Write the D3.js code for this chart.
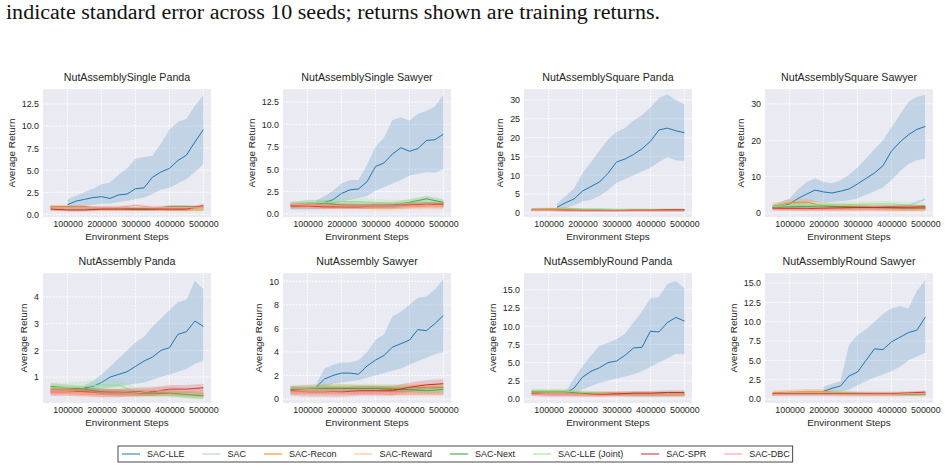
<!DOCTYPE html>
<html>
<head>
<meta charset="utf-8">
<script src="https://cdn.jsdelivr.net/npm/d3@7"></script>
<style>
  body { margin: 0; background: #fff; }
  svg { display: block; }
</style>
</head>
<body>
<div id="chart"></div>
<script>
// training steps for the SAC-LLE curves and for the baseline curves
var steps = [50000, 75000, 100000, 125000, 150000, 175000, 200000, 225000, 250000, 275000,
             300000, 325000, 350000, 375000, 400000, 425000, 450000, 475000, 500000];
var evalSteps = [50000, 100000, 150000, 200000, 250000, 300000, 350000, 400000, 450000, 500000];

var methods = ["SAC-LLE", "SAC", "SAC-Recon", "SAC-Reward", "SAC-Next", "SAC-LLE (Joint)", "SAC-SPR", "SAC-DBC"];
var colors = ["#1f77b4", "#aec7e8", "#ff7f0e", "#ffbb78", "#2ca02c", "#98df8a", "#d62728", "#ff9896"];

var titles = ["NutAssemblySingle Panda", "NutAssemblySingle Sawyer", "NutAssemblySquare Panda", "NutAssemblySquare Sawyer",
              "NutAssembly Panda", "NutAssembly Sawyer", "NutAssemblyRound Panda", "NutAssemblyRound Sawyer"];

var yTicks = [
  [0, 2.5, 5, 7.5, 10, 12.5],
  [0, 2.5, 5, 7.5, 10, 12.5],
  [0, 5, 10, 15, 20, 25, 30],
  [0, 10, 20, 30],
  [1, 2, 3, 4],
  [0, 2, 4, 6, 8, 10],
  [0, 2.5, 5, 7.5, 10, 12.5, 15],
  [0, 2.5, 5, 7.5, 10, 12.5, 15]
];
var yFormats = [".1f", ".1f", "d", "d", "d", "d", ".1f", ".1f"];
var yDomains = [[-0.3, 14.2], [-0.33, 13.95], [-1.1, 32.9], [-1.1, 34.1],
                [0.03, 4.9], [-0.34, 10.7], [-0.55, 17.3], [-0.5, 16.3]];
var xTicks = [100000, 200000, 300000, 400000, 500000];

// SAC-LLE mean and standard-error band, one row per panel (null = not yet plotted)
var lleMean = [
  [null, null, 1.1, 1.5, 1.7, 1.9, 2.0, 1.8, 2.2, 2.3, 2.9, 3.0, 4.2, 4.8, 5.2, 6.1, 6.7, 8.2, 9.6],
  [null, null, null, 1.0, 1.3, 1.6, 2.3, 2.7, 2.8, 3.6, 5.3, 5.7, 6.7, 7.4, 7.0, 7.3, 8.2, 8.3, 8.9],
  [null, null, null, 1.5, 2.7, 3.7, 5.8, 7.0, 8.2, 10.5, 13.5, 14.3, 15.5, 17.0, 19.0, 22.0, 22.5, 21.8, 21.3],
  [1.5, 1.8, 2.5, 4.0, 5.2, 6.3, 5.8, 5.5, 6.0, 6.6, 8.0, 9.5, 11.0, 13.0, 17.0, 19.5, 21.5, 23.0, 23.8],
  [null, null, null, null, 0.6, 0.65, 0.8, 1.0, 1.1, 1.2, 1.4, 1.6, 1.75, 2.0, 2.1, 2.6, 2.7, 3.1, 2.9],
  [null, null, null, 1.0, 1.7, 2.0, 2.2, 2.2, 2.1, 2.8, 3.3, 3.7, 4.4, 4.7, 5.0, 5.9, 5.8, 6.4, 7.1],
  [null, null, null, null, 0.8, 1.5, 3.0, 3.8, 4.3, 5.0, 5.2, 6.0, 7.0, 7.1, 9.3, 9.2, 10.5, 11.2, 10.7],
  [null, null, null, null, null, null, 1.0, 1.4, 1.7, 3.0, 3.5, 5.0, 6.5, 6.4, 7.4, 8.0, 8.6, 8.9, 10.6]
];
var lleHi = [
  [null, null, 1.7, 2.1, 2.5, 2.9, 3.4, 3.6, 4.5, 5.2, 6.3, 6.5, 6.6, 8.0, 9.6, 10.5, 10.8, 12.3, 13.5],
  [null, null, null, 1.5, 2.0, 2.6, 3.4, 3.8, 3.8, 5.5, 7.5, 8.5, 10.5, 10.8, 10.4, 11.2, 11.5, 12.0, 13.3],
  [null, null, null, 2.5, 4.5, 6.5, 10.5, 13.5, 16.5, 19.5, 21.5, 22.5, 24.5, 26.0, 28.0, 30.5, 31.5, 30.0, 28.8],
  [2.2, 3.0, 4.0, 6.5, 8.5, 9.5, 8.5, 8.2, 9.0, 10.5, 12.5, 15.0, 17.5, 20.0, 23.5, 27.0, 30.5, 32.0, 32.5],
  [null, null, null, null, 0.7, 0.85, 1.1, 1.4, 1.7, 2.0, 2.3, 2.5, 2.9, 3.2, 3.5, 3.8, 3.9, 4.6, 4.3],
  [null, null, null, 1.2, 2.6, 2.9, 3.1, 3.1, 3.3, 4.0, 5.0, 5.5, 7.0, 7.4, 8.0, 8.6, 8.7, 9.3, 10.2],
  [null, null, null, null, 1.0, 2.8, 4.5, 6.0, 7.3, 7.7, 8.2, 9.0, 10.5, 12.0, 13.8, 14.0, 15.8, 16.2, 15.2],
  [null, null, null, null, null, null, 1.6, 2.0, 2.3, 7.0, 8.3, 9.0, 10.0, 11.0, 11.7, 12.0, 11.7, 14.0, 15.4]
];
var lleLo = [
  [null, null, 0.7, 0.9, 1.0, 1.1, 1.2, 1.2, 1.4, 1.5, 1.7, 1.9, 2.3, 2.8, 3.0, 3.5, 4.0, 4.8, 5.7],
  [null, null, null, 0.8, 0.9, 1.1, 1.4, 1.6, 1.8, 2.0, 2.6, 3.0, 3.4, 3.8, 4.3, 4.5, 4.7, 4.6, 5.0],
  [null, null, null, 0.7, 1.2, 2.0, 3.0, 3.5, 4.5, 6.0, 8.0, 9.0, 10.0, 11.0, 12.0, 13.5, 14.8, 14.0, 13.8],
  [1.0, 1.0, 1.5, 2.0, 2.5, 3.0, 2.8, 3.0, 3.2, 3.5, 4.0, 5.0, 6.0, 7.0, 9.0, 11.5, 13.5, 14.5, 15.0],
  [null, null, null, null, 0.45, 0.5, 0.55, 0.6, 0.65, 0.7, 0.75, 0.8, 0.9, 1.0, 1.1, 1.2, 1.3, 1.5, 1.6],
  [null, null, null, 0.8, 1.0, 1.3, 1.4, 1.5, 1.6, 1.8, 2.0, 2.2, 2.4, 2.6, 2.9, 3.2, 3.5, 3.8, 4.0],
  [null, null, null, null, 0.6, 0.9, 1.3, 1.8, 2.2, 2.5, 2.8, 3.1, 3.4, 3.8, 4.4, 5.0, 5.6, 6.2, 6.1],
  [null, null, null, null, null, null, 0.6, 0.8, 1.0, 1.2, 1.8, 2.3, 2.8, 3.2, 3.6, 4.2, 5.0, 5.5, 6.0]
];

// baselines (SAC, Recon, Reward, Next, LLE Joint, SPR, DBC) at evalSteps, one block per panel
var baseMean = [
  [[0.8,0.8,0.7,0.7,0.7,0.6,0.6,0.6,0.6,0.6], [0.9,0.9,0.9,0.6,0.6,0.6,0.6,0.5,0.5,0.5],
   [0.5,0.5,0.5,0.5,0.5,0.5,0.5,0.5,0.5,0.5], [0.8,0.8,0.8,0.7,0.7,0.6,0.6,0.9,0.9,0.8],
   [0.7,0.7,0.7,0.7,0.7,0.7,0.7,0.7,0.7,0.7], [0.6,0.5,0.5,0.6,0.6,0.6,0.6,0.6,0.6,1.0],
   [0.8,0.8,0.8,0.8,0.8,1.0,0.8,0.8,0.8,0.8]],
  [[0.6,0.6,0.7,0.8,0.8,0.8,0.8,0.8,0.9,0.9], [1.0,1.1,1.1,1.0,0.9,0.9,1.0,1.1,1.0,1.0],
   [0.8,0.8,0.7,0.7,0.7,0.6,0.6,0.7,0.7,0.7], [1.0,1.2,1.2,1.0,1.0,1.0,1.0,1.3,1.7,1.3],
   [1.0,1.2,1.3,1.4,1.4,1.3,1.2,1.2,1.3,1.2], [0.9,0.9,0.8,0.8,0.8,0.9,0.9,1.0,1.1,1.1],
   [1.1,1.0,1.0,0.9,0.9,0.9,0.9,0.9,1.0,0.9]],
  [[0.8,0.8,0.8,0.7,0.7,0.7,0.7,0.7,0.7,0.7], [1.0,1.1,1.2,0.9,0.8,0.8,0.8,0.8,0.8,0.8],
   [0.9,0.9,1.0,0.8,0.6,0.6,0.6,0.6,0.6,0.6], [0.8,0.8,0.8,0.8,0.8,0.8,0.7,0.7,0.7,0.7],
   [0.9,0.9,1.0,1.0,1.0,0.9,0.9,0.9,0.9,0.9], [0.7,0.7,0.7,0.6,0.6,0.6,0.7,0.7,0.8,0.8],
   [0.6,0.6,0.5,0.5,0.5,0.5,0.5,0.5,0.5,0.5]],
  [[1.5,1.5,1.6,1.6,1.6,1.7,1.7,1.8,2.0,3.8], [1.8,2.8,3.0,1.9,1.8,1.6,1.5,1.4,1.4,1.4],
   [1.2,1.2,1.0,0.9,0.9,0.9,0.9,0.8,0.8,0.8], [1.6,1.7,1.8,2.0,1.7,1.6,1.5,1.4,1.2,1.3],
   [1.8,2.0,2.2,2.2,2.3,2.4,2.5,2.5,2.2,2.0], [1.2,1.2,1.2,1.3,1.4,1.5,1.5,1.6,1.6,1.7],
   [1.0,0.9,0.9,0.9,0.9,0.9,1.0,1.0,1.0,1.0]],
  [[0.5,0.5,0.45,0.45,0.45,0.45,0.4,0.4,0.4,0.4], [0.55,0.55,0.5,0.45,0.45,0.4,0.4,0.4,0.35,0.35],
   [0.4,0.4,0.35,0.35,0.35,0.35,0.35,0.35,0.35,0.3], [0.65,0.6,0.55,0.45,0.4,0.4,0.4,0.4,0.35,0.3],
   [0.6,0.6,0.65,0.7,0.7,0.45,0.45,0.45,0.4,0.35], [0.45,0.45,0.45,0.4,0.4,0.45,0.45,0.55,0.55,0.6],
   [0.45,0.45,0.4,0.4,0.4,0.4,0.5,0.45,0.45,0.4]],
  [[0.6,0.6,0.6,0.6,0.6,0.6,0.6,0.6,0.6,0.6], [0.8,0.9,1.0,1.0,0.9,0.9,0.9,0.9,1.0,1.0],
   [0.5,0.5,0.5,0.5,0.5,0.5,0.4,0.4,0.4,0.4], [0.8,0.9,0.9,0.9,0.9,0.9,0.8,0.8,0.7,0.8],
   [0.9,0.9,1.0,1.0,1.0,1.0,1.0,0.9,0.9,0.9], [0.7,0.6,0.6,0.6,0.7,0.7,0.7,1.0,1.2,1.3],
   [0.6,0.6,0.6,0.5,0.5,0.5,0.5,0.5,0.5,0.5]],
  [[0.8,0.8,0.8,0.7,0.7,0.7,0.7,0.7,0.7,0.7], [1.0,1.0,1.0,0.8,0.8,0.8,0.7,0.7,0.7,0.7],
   [0.9,0.9,0.9,0.7,0.6,0.6,0.6,0.6,0.6,0.6], [1.0,1.0,1.0,0.8,0.6,0.6,0.5,0.5,0.5,0.5],
   [1.1,1.1,1.1,0.9,0.8,0.7,0.7,0.7,0.7,0.7], [0.7,0.6,0.6,0.6,0.6,0.7,0.8,0.8,0.9,0.9],
   [0.6,0.6,0.6,0.6,0.5,0.5,0.5,0.5,0.5,0.5]],
  [[0.6,0.6,0.6,0.6,0.6,0.6,0.6,0.6,0.6,0.6], [0.8,0.9,1.0,1.0,0.8,0.7,0.7,0.7,0.7,0.7],
   [0.7,0.8,0.8,0.8,0.6,0.6,0.6,0.6,0.6,0.6], [0.6,0.6,0.6,0.6,0.6,0.6,0.6,0.6,0.6,0.6],
   [0.7,0.8,0.8,0.8,0.9,0.8,0.7,0.7,0.7,0.7], [0.7,0.7,0.7,0.7,0.7,0.7,0.7,0.7,0.8,0.9],
   [0.6,0.6,0.6,0.6,0.6,0.6,0.6,0.6,0.7,0.7]]
];
// standard error half-width of each baseline band
var baseErr = [
  [0.15, 0.15, 0.1, 0.15, 0.15, 0.2, 0.2],
  [0.2, 0.25, 0.2, 0.35, 0.4, 0.25, 0.3],
  [0.2, 0.3, 0.3, 0.2, 0.3, 0.2, 0.2],
  [0.5, 0.9, 0.4, 0.5, 0.8, 0.5, 0.4],
  [0.1, 0.1, 0.08, 0.12, 0.2, 0.15, 0.15],
  [0.2, 0.3, 0.15, 0.25, 0.3, 0.4, 0.2],
  [0.2, 0.3, 0.3, 0.2, 0.3, 0.3, 0.2],
  [0.15, 0.3, 0.3, 0.15, 0.25, 0.2, 0.2]
];

var W = 945, H = 469;
var colLeft = [43, 283, 524, 765];
var rowTop = [89, 273];
var plotW = 168;
var plotH = [128, 130];
var textColor = "#262626";
var sans = "'Liberation Sans', Arial, sans-serif";

var svg = d3.select("#chart").append("svg")
    .attr("width", W)
    .attr("height", H)
    .style("font-family", sans);

svg.append("text")
    .attr("x", 6).attr("y", 19)
    .attr("textLength", 654)
    .attr("lengthAdjust", "spacingAndGlyphs")
    .style("font-family", "'Liberation Serif', 'DejaVu Serif', serif")
    .style("font-size", "20px")
    .style("fill", "#111")
    .text("indicate standard error across 10 seeds; returns shown are training returns.");

var xScale = d3.scaleLinear().domain([27500, 522500]).range([0, plotW]);

for (var p = 0; p < 8; p++) {
  var row = Math.floor(p / 4), col = p % 4;
  var h = plotH[row];
  var yScale = d3.scaleLinear().domain(yDomains[p]).range([h, 0]);
  var g = svg.append("g").attr("transform", "translate(" + colLeft[col] + "," + rowTop[row] + ")");

  g.append("rect").attr("width", plotW).attr("height", h).style("fill", "#eaeaf2");

  g.append("clipPath").attr("id", "clip" + p)
    .append("rect").attr("width", plotW).attr("height", h);

  // grid
  g.selectAll(".vg").data(xTicks).enter().append("line")
    .attr("x1", function(d) { return xScale(d); }).attr("x2", function(d) { return xScale(d); })
    .attr("y1", 0).attr("y2", h)
    .style("stroke", "#fff").style("stroke-width", 0.9).style("stroke-dasharray", "2,1.2");
  g.selectAll(".hg").data(yTicks[p]).enter().append("line")
    .attr("y1", function(d) { return yScale(d); }).attr("y2", function(d) { return yScale(d); })
    .attr("x1", 0).attr("x2", plotW)
    .style("stroke", "#fff").style("stroke-width", 0.9).style("stroke-dasharray", "2,1.2");

  // axes (labels only, seaborn darkgrid has no spines or tick marks)
  var xAxis = g.append("g").attr("transform", "translate(0," + h + ")")
    .call(d3.axisBottom(xScale).tickValues(xTicks).tickSize(0).tickPadding(3.5).tickFormat(d3.format("d")));
  var yAxis = g.append("g")
    .call(d3.axisLeft(yScale).tickValues(yTicks[p]).tickSize(0).tickPadding(4).tickFormat(d3.format(yFormats[p])));
  [xAxis, yAxis].forEach(function(a) {
    a.select(".domain").remove();
    a.selectAll("text").style("font-size", "8.9px").style("fill", textColor).style("font-family", sans);
  });

  var maxW = 0;
  yAxis.selectAll("text").each(function() { maxW = Math.max(maxW, this.getComputedTextLength()); });

  g.append("text")
    .attr("transform", "translate(" + (-maxW - 11) + "," + (h / 2) + ") rotate(-90)")
    .attr("text-anchor", "middle")
    .style("font-size", "9.9px").style("fill", textColor)
    .text("Average Return");
  g.append("text")
    .attr("x", plotW / 2).attr("y", h + 23)
    .attr("text-anchor", "middle")
    .style("font-size", "9.9px").style("fill", textColor)
    .text("Environment Steps");
  g.append("text")
    .attr("x", plotW / 2).attr("y", -8)
    .attr("text-anchor", "middle")
    .style("font-size", "10.7px").style("fill", textColor)
    .text(titles[p]);

  var marks = g.append("g").attr("clip-path", "url(#clip" + p + ")");
  var area = d3.area()
    .x(function(d) { return xScale(d.x); })
    .y0(function(d) { return yScale(d.lo); })
    .y1(function(d) { return yScale(d.hi); });
  var line = d3.line()
    .x(function(d) { return xScale(d.x); })
    .y(function(d) { return yScale(d.m); });

  // SAC-LLE
  var lle = steps.map(function(s, i) {
    return {x: s, m: lleMean[p][i], lo: lleLo[p][i], hi: lleHi[p][i]};
  }).filter(function(d) { return d.m != null; });
  marks.append("path").attr("d", area(lle)).style("fill", colors[0]).style("opacity", 0.2);
  marks.append("path").attr("d", line(lle))
    .style("fill", "none").style("stroke", colors[0]).style("stroke-width", 1);

  // baselines
  for (var k = 0; k < 7; k++) {
    var e = baseErr[p][k];
    var pts = evalSteps.map(function(s, i) {
      var m = baseMean[p][k][i];
      return {x: s, m: m, lo: m - e, hi: m + e};
    });
    marks.append("path").attr("d", area(pts)).style("fill", colors[k + 1]).style("opacity", 0.2);
    marks.append("path").attr("d", line(pts))
      .style("fill", "none").style("stroke", colors[k + 1]).style("stroke-width", 1);
  }
}

// legend along the bottom
var legend = svg.append("g");
var box = legend.append("rect")
    .attr("x", 118).attr("y", 446).attr("height", 16)
    .style("fill", "#fff").style("stroke", "#333").style("stroke-width", 0.9);
var lx = 122;
methods.forEach(function(name, i) {
  legend.append("line")
    .attr("x1", lx).attr("x2", lx + 18).attr("y1", 454).attr("y2", 454)
    .style("stroke", colors[i]).style("stroke-width", 1);
  var t = legend.append("text")
    .attr("x", lx + 25).attr("y", 457.3)
    .style("font-size", "9px").style("fill", textColor)
    .text(name);
  lx = lx + 25 + t.node().getComputedTextLength() + 18;
});
box.attr("width", lx - 18 + 3 - 118);
</script>
</body>
</html>
